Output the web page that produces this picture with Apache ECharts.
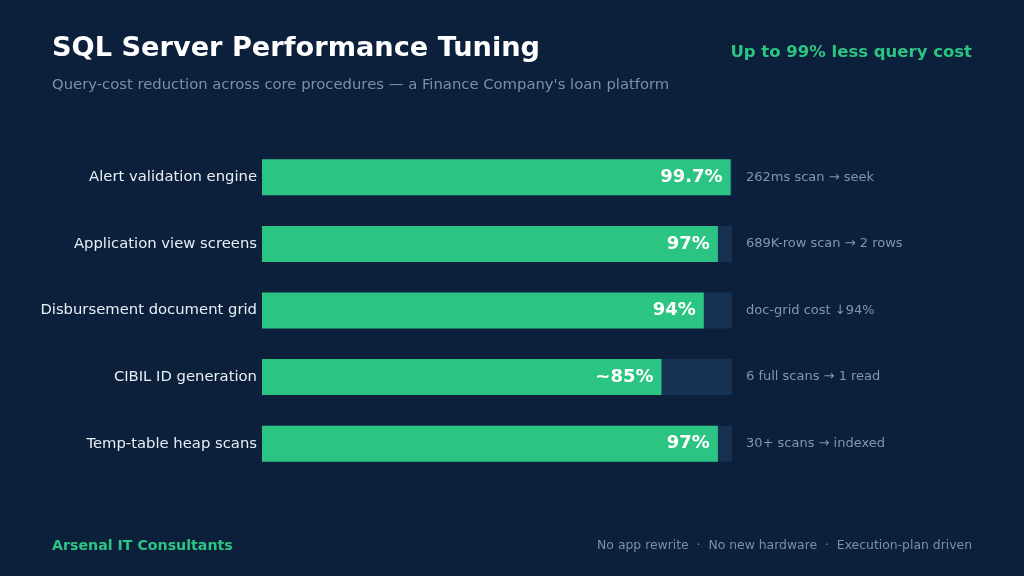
<!DOCTYPE html>
<html>
<head>
<meta charset="utf-8">
<script src="https://cdn.jsdelivr.net/npm/echarts@6/dist/echarts.min.js"></script>
<style>
  html, body { margin: 0; padding: 0; background: #0c1f3b; }
  #chart { width: 1024px; height: 576px; }
</style>
</head>
<body>
<div id="chart"></div>
<script>
// procedures, top to bottom
const categories = [
  'Alert validation engine',
  'Application view screens',
  'Disbursement document grid',
  'CIBIL ID generation',
  'Temp-table heap scans'
]
// query-cost reduction, %
const reductions = [99.7, 97, 94, 85, 97]
const reductionLabels = ['99.7%', '97%', '94%', '~85%', '97%']
const notes = [
  '262ms scan \u2192 seek',
  '689K-row scan \u2192 2 rows',
  'doc-grid cost \u219394%',
  '6 full scans \u2192 1 read',
  '30+ scans \u2192 indexed'
]

const font = 'DejaVu Sans'
const green = '#2bc482'

const chart = echarts.init(document.getElementById('chart'))
const option = {
  backgroundColor: '#0c1f3b',
  textStyle: { fontFamily: font },
  title: [
    {
      text: 'SQL Server Performance Tuning',
      left: 52, top: 35, padding: 0,
      textStyle: { color: '#ffffff', fontSize: 27.2, fontWeight: 'bold', fontFamily: font }
    },
    {
      text: "Query-cost reduction across core procedures \u2014 a Finance Company's loan platform",
      left: 52, top: 78, padding: 0,
      textStyle: { color: '#7d8ea8', fontSize: 14.8, fontWeight: 'normal', fontFamily: font }
    },
    {
      text: 'Up to 99% less query cost',
      right: 52, top: 44, padding: 0,
      textStyle: { color: green, fontSize: 16.5, fontWeight: 'bold', fontFamily: font }
    },
    {
      text: 'Arsenal IT Consultants',
      left: 52, top: 539, padding: 0,
      textStyle: { color: green, fontSize: 14.2, fontWeight: 'bold', fontFamily: font }
    },
    {
      text: 'No app rewrite  \u00b7  No new hardware  \u00b7  Execution-plan driven',
      right: 52, top: 540, padding: 0,
      textStyle: { color: '#7d8ea8', fontSize: 12.4, fontWeight: 'normal', fontFamily: font }
    }
  ],
  grid: { left: 262, right: 292, top: 144, bottom: 99 },
  xAxis: {
    type: 'value', min: 0, max: 100,
    show: false
  },
  yAxis: [
    {
      type: 'category',
      data: categories,
      inverse: true,
      axisLine: { show: false },
      axisTick: { show: false },
      axisLabel: { color: '#e8eef6', fontSize: 14.8, margin: 5, fontFamily: font }
    },
    {
      type: 'category',
      data: notes,
      inverse: true,
      position: 'right',
      axisLine: { show: false },
      axisTick: { show: false },
      axisLabel: { color: '#8595ad', fontSize: 13, margin: 14, fontFamily: font }
    }
  ],
  series: [
    {
      type: 'bar',
      data: reductions,
      barWidth: 36,
      showBackground: true,
      backgroundStyle: { color: '#163152' },
      itemStyle: { color: green },
      label: {
        show: true,
        position: 'insideRight',
        distance: 8,
        color: '#ffffff',
        fontSize: 18,
        fontWeight: 'bold',
        fontFamily: font,
        formatter: p => reductionLabels[p.dataIndex]
      }
    }
  ]
}
chart.setOption(option)
</script>
</body>
</html>
